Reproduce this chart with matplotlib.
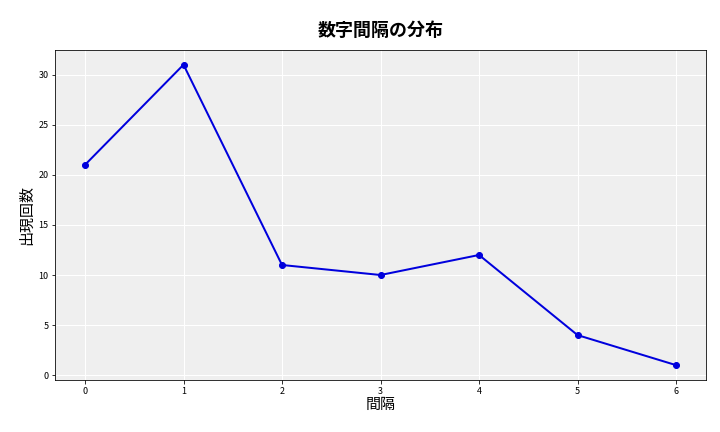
import matplotlib
matplotlib.use("Agg")
import matplotlib.pyplot as plt

plt.rcParams['font.family'] = ['Noto Sans CJK JP', 'DejaVu Sans']

gaps = [0, 1, 2, 3, 4, 5, 6]
counts = [21, 31, 11, 10, 12, 4, 1]

fig, ax = plt.subplots(figsize=(10, 6), dpi=72)
ax.set_facecolor('#efefef')
ax.grid(True, color='white', linewidth=1)
ax.set_axisbelow(True)
ax.plot(gaps, counts, color='#0000dd', marker='o', linewidth=2, markersize=6)
ax.set_title('数字間隔の分布', fontsize=18, fontweight='bold', pad=14)
ax.set_xlabel('間隔', fontsize=15, labelpad=2)
ax.set_ylabel('出現回数', fontsize=15, labelpad=4)
ax.tick_params(labelsize=9)
fig.subplots_adjust(left=0.077, right=0.98, top=0.885, bottom=0.12)
fig.savefig('out.png')
